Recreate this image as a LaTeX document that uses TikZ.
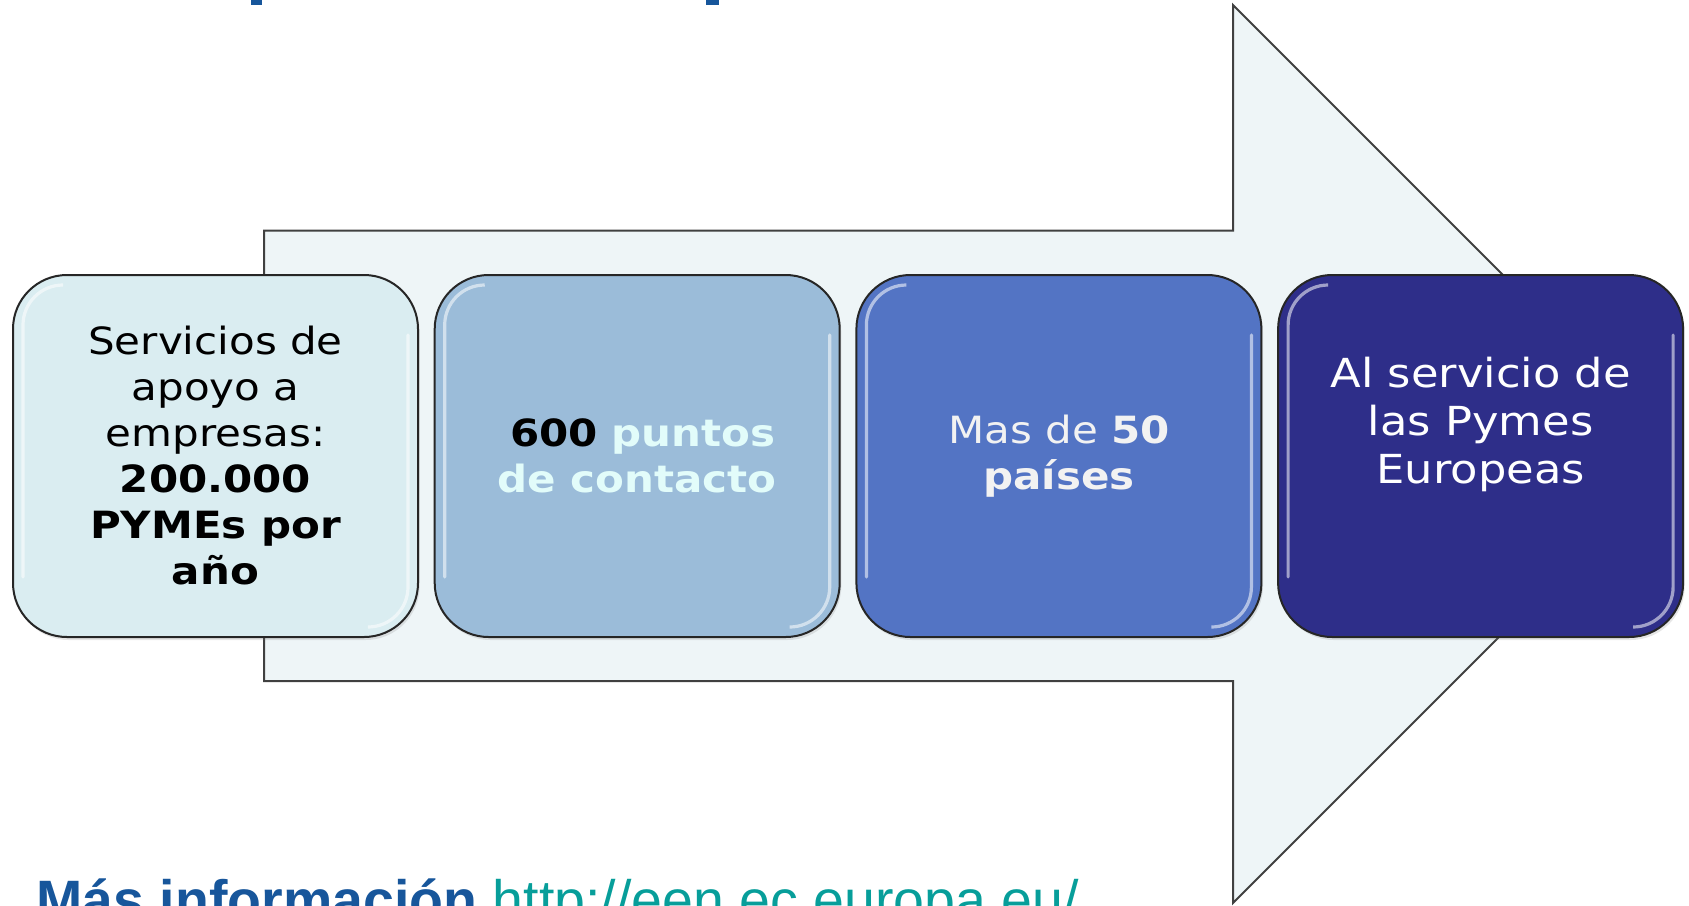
\documentclass[tikz,border=0pt]{standalone}
\usepackage{fontspec}
\setmainfont{DejaVu Sans}[FakeStretch=1.12]
\newfontfamily\infofont{Liberation Sans}
\usepackage{xcolor}
\usetikzlibrary{positioning,shadows}

\definecolor{arrowfill}{HTML}{EEF5F7}
\definecolor{boxA}{HTML}{DAEDF1}
\definecolor{boxB}{HTML}{9BBCD9}
\definecolor{boxC}{HTML}{5374C4}
\definecolor{boxD}{HTML}{2E2E89}
\definecolor{puntoscyan}{HTML}{E2FCFA}
\definecolor{paiseswhite}{HTML}{F2F2F2}
\definecolor{infoblue}{HTML}{17569B}
\definecolor{urlteal}{HTML}{079E9A}

\tikzset{
  box/.style={draw=black!85, line width=1pt, rounded corners=27pt,
    minimum width=202.5pt, minimum height=181pt, inner sep=0pt, outer sep=0pt,
    align=center, font=\fontsize{18.75}{23}\selectfont,
    drop shadow={opacity=.2, shadow xshift=.8pt, shadow yshift=-1.5pt}},
  gloss/.style={draw=white, opacity=.55, line width=1.6pt, rounded corners=20pt, line cap=round}
}

\begin{document}
\begin{tikzpicture}[x=0.5pt,y=-0.5pt]
    \useasboundingbox (0,0) rectangle (1689,905);

    % title remnants at the top edge
    \fill[infoblue] (251,0) rectangle (262,5);
    \fill[infoblue] (706,0) rectangle (719,5);

    % Big arrow
    \draw[fill=arrowfill, draw=black!75, line width=1pt]
      (264,230.5) -- (1233,230.5) -- (1233,5) -- (1682,454)
      -- (1233,903) -- (1233,681) -- (264,681) -- cycle;

    % Boxes
    \node[box, fill=boxA] (servicios) at (215.5,456)
      {Servicios de\\apoyo a\\empresas:\\\textbf{200.000}\\\textbf{PYMEs por}\\\textbf{año}};
    \node[box, fill=boxB, right=8.35pt of servicios] (puntos)
      {\hspace*{.3em}\textbf{600} \textcolor{puntoscyan}{\textbf{puntos}}\\\textcolor{puntoscyan}{\textbf{de contacto}}};
    \node[box, fill=boxC, text=paiseswhite, right=8.35pt of puntos] (paises)
      {Mas de \textbf{50}\\\textbf{países}};
    \node[box, fill=boxD, right=8.35pt of paises] (pymes) {};
    \node[text=white, align=center, font=\fontsize{20}{24}\selectfont]
      (pymestext) at ([yshift=16pt]pymes.center)
      {Al servicio de\\las Pymes\\Europeas};

    % highlights along the sides
    \foreach \b in {servicios,puntos,paises,pymes} {
      \draw[gloss] ([shift={(24pt,-5pt)}]\b.north west) -| ([shift={(5pt,30pt)}]\b.south west);
      \draw[gloss] ([shift={(-5pt,-30pt)}]\b.north east) |- ([shift={(-24pt,5pt)}]\b.south east);
    }

    % Bottom line
    \node[anchor=base west, inner sep=0pt, font=\infofont\fontsize{27.75}{30}\selectfont]
      (masinfo) at (36,919)
      {\textcolor{infoblue}{\textbf{Más información}} \textcolor{urlteal}{http://een.ec.europa.eu/}};
\end{tikzpicture}
\end{document}
